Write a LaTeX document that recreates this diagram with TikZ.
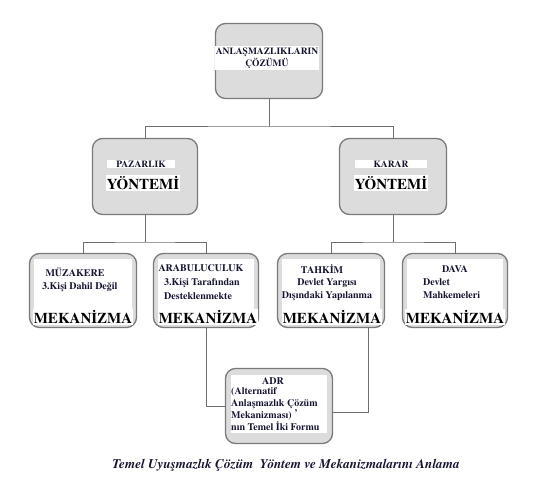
\documentclass[tikz,border=0pt]{standalone}
\usepackage{fontspec}
\setmainfont{texgyretermes}[Extension=.otf, UprightFont=*-regular, BoldFont=*-bold, ItalicFont=*-italic, BoldItalicFont=*-bolditalic]
\definecolor{boxfill}{HTML}{DCDCDD}
\definecolor{boxline}{HTML}{7A7A7A}
\definecolor{conline}{HTML}{6E6E6E}
\definecolor{txt}{HTML}{141432}
\begin{document}
\begin{tikzpicture}[x=1pt,y=-1pt,
  box/.style={draw=boxline, fill=boxfill, rounded corners=10pt, line width=1.3pt, inner sep=0pt, outer sep=0pt},
  lab/.style={fill=white, inner sep=1pt, text=txt, font=\bfseries\fontsize{10}{12}\selectfont, align=center},
  big/.style={fill=white, inner sep=1pt, text=black, font=\bfseries\fontsize{15}{17}\selectfont},
  sml/.style={inner sep=0pt, text=txt, font=\bfseries\fontsize{10}{13.5}\selectfont, align=left},
  conn/.style={draw=conline, line width=1pt}]
\useasboundingbox (0,0) rectangle (539,482);
\fill[white] (0,0) rectangle (539,482);

% top
\node[box, minimum width=107pt, minimum height=75pt] (top) at (269,61) {};
\node[lab, font=\bfseries\fontsize{9.5}{12.5}\selectfont] (toptxt) at (267,58) {ANLAŞMAZLIKLARIN\\ÇÖZÜMÜ};

% level 2
\node[box, minimum width=105pt, minimum height=76pt] (paz) at (145,176.5) {};
\node[box, minimum width=107pt, minimum height=76pt] (kar) at (393,176.5) {};
\node[lab, minimum width=68pt, font=\bfseries\fontsize{9.5}{11}\selectfont] (paztxt) at (141,164) {PAZARLIK};
\node[big] (pazy) at (143,183) {YÖNTEMİ};
\node[lab, minimum width=72pt, font=\bfseries\fontsize{9.5}{11}\selectfont] (kartxt) at (391,164) {KARAR};
\node[big] (kary) at (391,183) {YÖNTEMİ};

% level 3
\node[box, minimum width=107pt, minimum height=74pt] (muz) at (83,290.5) {};
\node[box, minimum width=105pt, minimum height=74pt] (ara) at (206,290.5) {};
\node[box, minimum width=107pt, minimum height=74pt] (tah) at (331,290.5) {};
\node[box, minimum width=105pt, minimum height=74pt] (dav) at (455,290.5) {};
\fill[white] (34,259) rectangle (132,323);
\fill[white] (158,259) rectangle (254,323);
\fill[white] (282,259) rectangle (380,323);
\fill[white] (407,259) rectangle (503,323);

\node[lab] (muzt) at (75,272) {MÜZAKERE};
\node[sml, anchor=west] (muzs) at (42,287) {3.Kişi Dahil Değil};
\node[lab] (arat) at (201,268) {ARABULUCULUK};
\node[sml, anchor=north west] (aras) at (164,278.5) {3.Kişi Tarafından\\Desteklenmekte};
\node[lab] (taht) at (322,269) {TAHKİM};
\node[sml, anchor=north, align=center] (tahs) at (327,278.5) {Devlet Yargısı\\Dışındaki Yapılanma};
\node[lab] (davt) at (455,269) {DAVA};
\node[sml, anchor=north west] (davs) at (423,278.5) {Devlet\\Mahkemeleri};

\node[big] (muzm) at (83,317) {MEKANİZMA};
\node[big] (aram) at (208,317) {MEKANİZMA};
\node[big] (tahm) at (332,317) {MEKANİZMA};
\node[big] (davm) at (455,317) {MEKANİZMA};

% ADR
\node[box, minimum width=107pt, minimum height=75pt] (adr) at (279,406) {};
\fill[white] (231,375) rectangle (327,433);
\node[lab, fill=none] (adrt) at (273,381) {ADR};
\node[sml, anchor=north west, font=\bfseries\fontsize{10}{12}\selectfont] (adrs) at (231,387) {(Alternatif\\Anlaşmazlık Çözüm\\Mekanizması) \raisebox{2pt}{'}\\nın Temel İki Formu};

% connectors
\coordinate (j1) at (269,126);
\draw[conn] (top.south) -- (j1);
\draw[conn] (paz.north) |- (j1) -| (kar.north);
\coordinate (j2) at (145,242);
\coordinate (j3) at (393,242);
\draw[conn] (paz.south) -- (j2);
\draw[conn] (muz.north) |- (j2) -| (ara.north);
\draw[conn] (kar.south) -- (j3);
\draw[conn] (tah.north) |- (j3) -| (dav.north);
\draw[conn] (ara.south) |- (adr.west);
\coordinate (t1) at ([xshift=37pt]tah.south);
\draw[conn] (t1) |- ([yshift=-6pt]adr.east);

% caption
\node[inner sep=0pt, text=txt, font=\bfseries\itshape\fontsize{13.2}{15}\selectfont] (cap) at (286,465) {Temel Uyuşmazlık Çözüm\ \ Yöntem ve Mekanizmalarını Anlama};
\end{tikzpicture}
\end{document}
